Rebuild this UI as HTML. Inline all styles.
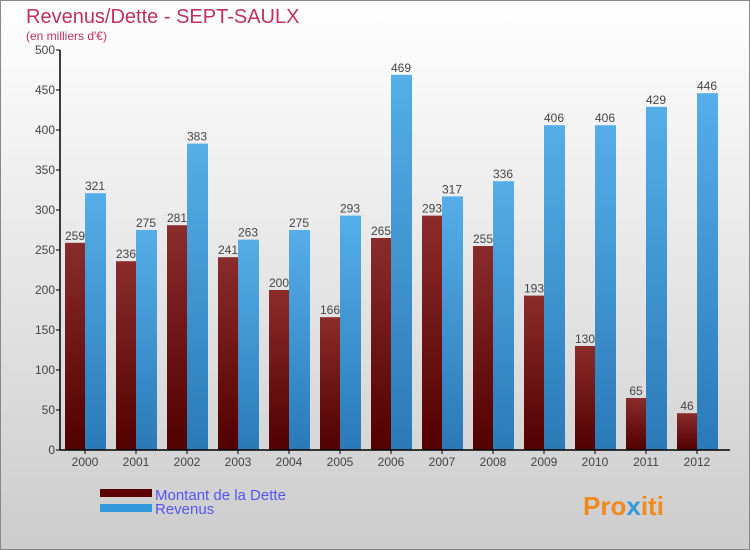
<!DOCTYPE html>
<html><head><meta charset="utf-8"><style>
body{margin:0}
svg{display:block;font-family:"Liberation Sans",sans-serif}
</style></head><body>
<svg id="c" width="750" height="550">
<defs>
<linearGradient id="bg" x1="0" y1="0" x2="0" y2="1"><stop offset="0" stop-color="#ffffff"/><stop offset="1" stop-color="#cccccc"/></linearGradient>
<linearGradient id="gd" x1="0" y1="0" x2="0" y2="1"><stop offset="0" stop-color="#8b2c2c"/><stop offset="1" stop-color="#520000"/></linearGradient>
<linearGradient id="gr" x1="0" y1="0" x2="0" y2="1"><stop offset="0" stop-color="#55aee8"/><stop offset="1" stop-color="#2a7ab8"/></linearGradient>
</defs>
<rect x="0.5" y="0.5" width="749" height="549" fill="url(#bg)" stroke="#888"/>
<text x="26" y="23" font-size="20" fill="#c0305f">Revenus/Dette - SEPT-SAULX</text>
<text x="26" y="40" font-size="12" fill="#c0305f">(en milliers d'€)</text>
<g id="plot"></g>
<rect x="100" y="489" width="52" height="8" fill="#5a0000"/>
<text x="155" y="500" font-size="15" fill="#5555ee">Montant de la Dette</text>
<rect x="100" y="504" width="52" height="8" fill="#3399dd"/>
<text x="155" y="514" font-size="15" fill="#5555ee">Revenus</text>
<text x="583" y="515" font-size="26" font-weight="bold" fill="#f08a20">Pro<tspan fill="#3399dd">x</tspan>iti</text>
</svg>
<script>
const years=["2000","2001","2002","2003","2004","2005","2006","2007","2008","2009","2010","2011","2012"];
const dette=[259,236,281,241,200,166,265,293,255,193,130,65,46];
const revenus=[321,275,383,263,275,293,469,317,336,406,406,429,446];
const yTicks=[0,50,100,150,200,250,300,350,400,450,500];
const NS="http://www.w3.org/2000/svg";
const g=document.getElementById('plot');
const x0=60,yb=450,yMax=500,ph=400,step=51,first=85,bw=20;
const y=v=>yb-v/yMax*ph;
const xc=i=>first+i*step;
function mk(t,a){const e=document.createElementNS(NS,t);for(const k in a)e.setAttribute(k,a[k]);g.appendChild(e);return e;}
yTicks.forEach(v=>{
 const l=mk('line',{x1:x0-4,x2:x0,y1:y(v),y2:y(v),stroke:'#000'});
 
 
 const t=mk('text',{x:x0-5,y:y(v)+4,'font-size':12,fill:'#444','text-anchor':'end'});
 t.textContent=v;
 
 
});
years.forEach((yr,i)=>{
 const c=xc(i);
 const b1=mk('rect',{x:c-bw,y:y(dette[i]),width:bw,height:yb-y(dette[i]),fill:'url(#gd)'});
 
 
 const b2=mk('rect',{x:c,y:y(revenus[i]),width:bw+1,height:yb-y(revenus[i]),fill:'url(#gr)'});
 
 
 const t1=mk('text',{x:c-bw/2,y:y(dette[i])-3,'font-size':12,fill:'#444','text-anchor':'middle'});
 t1.textContent=dette[i];
 
 
 const t2=mk('text',{x:c+bw/2,y:y(revenus[i])-3,'font-size':12,fill:'#444','text-anchor':'middle'});
 t2.textContent=revenus[i];
 
 
 const xl=mk('text',{x:c,y:466,'font-size':12,fill:'#444','text-anchor':'middle'});
 xl.textContent=yr;
 
 
 const tk=mk('line',{x1:c,x2:c,y1:yb,y2:yb+4,stroke:'#000'});
 
 
});
const ya=mk('line',{x1:x0,x2:x0,y1:y(yMax),y2:yb,stroke:'#000','stroke-width':1.5});


const xa=mk('line',{x1:x0,x2:730,y1:yb,y2:yb,stroke:'#000','stroke-width':1.5});


</script>
</body></html>
